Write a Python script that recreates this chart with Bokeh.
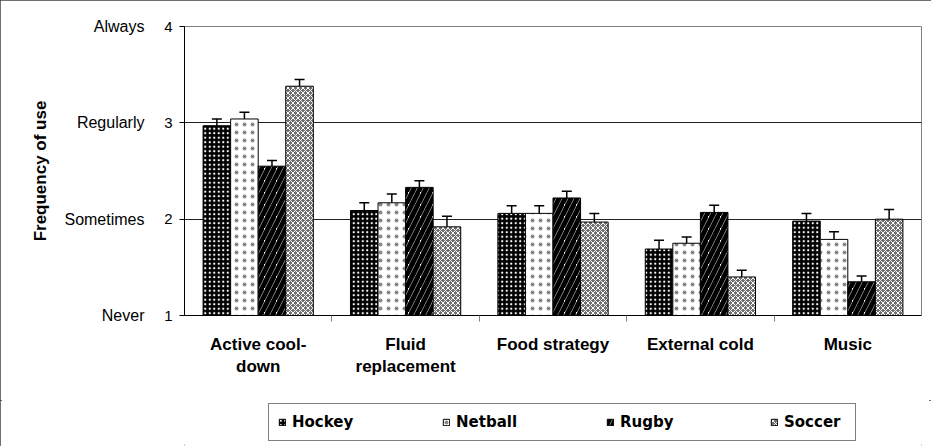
from bokeh.plotting import figure
from bokeh.layouts import column
from bokeh.models import (FactorRange, Range1d, LinearAxis, CategoricalAxis, FixedTicker,
                          Whisker, TeeHead, ColumnDataSource, Legend, LegendItem, Grid)
from bokeh.transform import dodge
from bokeh.embed import file_html
from bokeh.resources import INLINE

categories = ["Active cool-down", "Fluid replacement", "Food strategy", "External cold", "Music"]
label_line1 = ["Active cool-", "Fluid", "Food strategy", "External cold", "Music"]
label_line2 = ["down", "replacement", " ", "  ", "   "]
sports = ["Hockey", "Netball", "Rugby", "Soccer"]
hockey = [2.97, 2.09, 2.06, 1.69, 1.98]
hockey_err = [0.07, 0.08, 0.08, 0.09, 0.08]
netball = [3.04, 2.17, 2.06, 1.75, 1.79]
netball_err = [0.07, 0.09, 0.08, 0.065, 0.08]
rugby = [2.55, 2.33, 2.22, 2.07, 1.35]
rugby_err = [0.06, 0.07, 0.07, 0.075, 0.06]
soccer = [3.38, 1.92, 1.97, 1.40, 2.00]
soccer_err = [0.07, 0.11, 0.09, 0.07, 0.10]
y_ticks = [1, 2, 3, 4]
y_labels = ["Never", "Sometimes", "Regularly", "Always"]

means = [hockey, netball, rugby, soccer]
errs = [hockey_err, netball_err, rugby_err, soccer_err]

styles = [
    dict(fill_color="black", hatch_pattern="dot", hatch_color="white", hatch_scale=4.5, hatch_weight=1.0),
    dict(fill_color="white", hatch_pattern="dot", hatch_color="#888888", hatch_scale=8, hatch_weight=0.9),
    dict(fill_color="white", hatch_pattern="right_diagonal_line", hatch_color="black", hatch_scale=12, hatch_weight=5),
    dict(fill_color="#707070", hatch_pattern="diagonal_cross", hatch_color="white", hatch_scale=5, hatch_weight=1),
]

BORDER_L, BORDER_R = 184, 10

p = figure(width=931, height=400,
           x_range=FactorRange(*categories, range_padding=0),
           y_range=Range1d(y_ticks[0], y_ticks[-1]),
           output_backend="svg", toolbar_location=None,
           x_axis_location=None, y_axis_location=None,
           min_border_left=BORDER_L, min_border_right=BORDER_R, min_border_top=26, min_border_bottom=85)
p.outline_line_color = "#808080"
p.background_fill_color = "white"
p.border_fill_color = "white"

p.center = [r for r in p.center if not isinstance(r, Grid)]
p.add_layout(Grid(dimension=1, ticker=FixedTicker(ticks=y_ticks), grid_line_color="#222222", grid_line_width=1))

# x axes: boundary ticks (a factor range whose factors sit between categories) + two label lines
boundaries = ["|" * (i + 1) for i in range(len(categories) - 1)]
p.extra_x_ranges = {"bounds": FactorRange(*boundaries, range_padding=1.0 / len(boundaries)),
                    "line1": FactorRange(*label_line1, range_padding=0),
                    "line2": FactorRange(*label_line2, range_padding=0)}
tick_axis = CategoricalAxis(x_range_name="bounds",
                            major_label_text_font_size="1px", major_label_text_alpha=0,
                            major_label_standoff=0,
                            major_tick_out=6, major_tick_in=0, major_tick_line_color="#808080",
                            minor_tick_line_color=None, axis_line_color="black", axis_line_width=1)
p.add_layout(tick_axis, "below")
for rname, standoff in (("line1", 13), ("line2", 0)):
    ax = CategoricalAxis(x_range_name=rname,
                         axis_line_color=None, major_tick_line_color=None, minor_tick_line_color=None,
                         major_tick_out=0, major_tick_in=0,
                         major_label_text_font="Liberation Sans", major_label_text_font_style="bold",
                         major_label_text_font_size="17px", major_label_text_color="black",
                         major_label_standoff=standoff)
    p.add_layout(ax, "below")

# y axes: numbers + words
num_axis = LinearAxis(ticker=FixedTicker(ticks=y_ticks), major_tick_out=5, major_tick_in=0,
                      minor_tick_line_color=None, major_label_standoff=7,
                      major_label_text_font="Liberation Sans", major_label_text_font_size="15px",
                      major_label_text_color="black", axis_line_color="black", major_tick_line_color="black")
p.add_layout(num_axis, "left")
word_axis = LinearAxis(ticker=FixedTicker(ticks=y_ticks), major_label_overrides=dict(zip(y_ticks, y_labels)),
                       axis_line_color=None, major_tick_line_color=None, minor_tick_line_color=None,
                       major_tick_out=0, major_tick_in=0,
                       major_label_standoff=17, major_label_text_font="Liberation Sans",
                       major_label_text_font_size="16px", major_label_text_color="black",
                       axis_label="Frequency of use", axis_label_text_font="Liberation Sans",
                       axis_label_text_font_style="bold", axis_label_text_font_size="17px",
                       axis_label_text_color="black", axis_label_standoff=11)
p.add_layout(word_axis, "left")

bar_w = 0.187
n = len(sports)
for i, (name, m, e, st) in enumerate(zip(sports, means, errs, styles)):
    off = (i - (n - 1) / 2) * bar_w
    src = ColumnDataSource(dict(cat=categories, top=m,
                                upper=[a + b for a, b in zip(m, e)]))
    p.vbar(x=dodge("cat", off, range=p.x_range), top="top", bottom=y_ticks[0], width=bar_w,
           source=src, line_color="black", line_width=1, **st)
    w = Whisker(base=dodge("cat", off, range=p.x_range), lower="top", upper="upper", source=src,
                dimension="height", line_color="black", line_width=1.5,
                upper_head=TeeHead(size=10, line_color="black", line_width=1.5), lower_head=None)
    p.add_layout(w)

# legend strip below the chart (same side borders so the frames line up)
lg = figure(width=931, height=46, output_backend="svg", toolbar_location=None,
            x_axis_location=None, y_axis_location=None,
            x_range=Range1d(0, 1), y_range=Range1d(0, 1),
            min_border_left=BORDER_L, min_border_right=BORDER_R, min_border_top=0, min_border_bottom=0)
lg.outline_line_color = None
lg.background_fill_color = "white"
lg.border_fill_color = "white"
lg.center = [r for r in lg.center if not isinstance(r, Grid)]
items = []
for name, st in zip(sports, styles):
    r = lg.vbar(x=[0.5], top=[0.5], bottom=0, width=0.1, line_color="black", line_width=1, **st)
    r.visible = False
    items.append(LegendItem(label=name, renderers=[r]))
legend = Legend(items=items, orientation="horizontal", location=(84, 5),
                padding=9, spacing=88, glyph_width=8, glyph_height=8, label_standoff=6,
                label_width=62, label_height=17,
                label_text_font="DejaVu Sans", label_text_font_style="bold",
                label_text_font_size="15px", label_text_color="black",
                border_line_color="black", border_line_width=1, margin=0,
                background_fill_color="white", background_fill_alpha=1)
lg.add_layout(legend)

layout = column(p, lg, spacing=0)
layout.styles = {"outline": "2px solid #404040", "outline-offset": "-2px"}

open("out.html", "w").write(file_html(layout, INLINE))
